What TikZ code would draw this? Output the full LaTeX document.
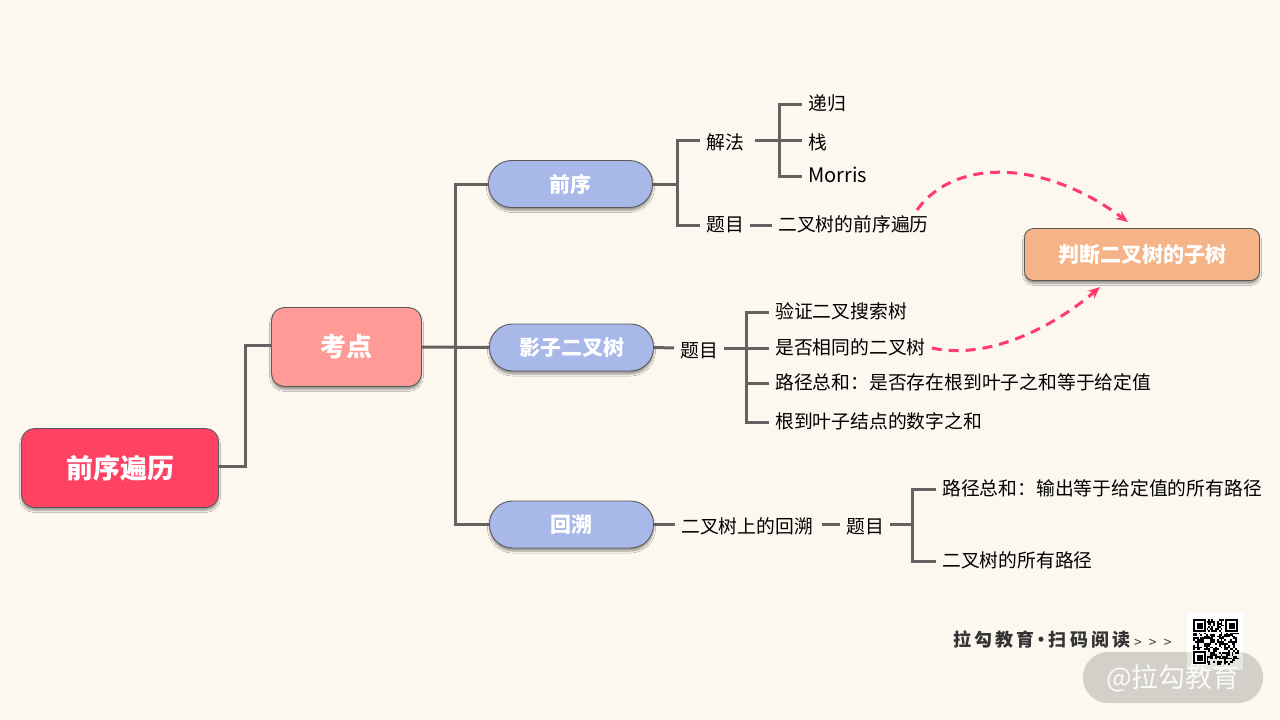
\documentclass[tikz,border=0pt]{standalone}
\usepackage{fontspec}
\usetikzlibrary{shadows.blur,arrows.meta}
\setmainfont{Noto Sans CJK SC}
\definecolor{paper}{RGB}{252, 248, 240}
\definecolor{linegray}{RGB}{100, 98, 96}
\definecolor{edgegray}{RGB}{90, 90, 90}
\definecolor{rootred}{RGB}{255, 65, 100}
\definecolor{keypink}{RGB}{255, 155, 150}
\definecolor{topicblue}{RGB}{168, 184, 232}
\definecolor{linkorange}{RGB}{245, 180, 135}
\definecolor{dashred}{RGB}{255, 60, 105}
\definecolor{pillgray}{RGB}{210, 208, 200}
\tikzset{
  boxbase/.style={draw=edgegray, line width=0.9pt, text=white,
    blur shadow={shadow xshift=0pt, shadow yshift=-3pt, shadow opacity=40, shadow blur radius=2pt, shadow blur steps=5}},
  rootbox/.style={boxbase, fill=rootred, rounded corners=13pt, minimum width=197pt, minimum height=79pt, font=\fontsize{27}{30}\bfseries\selectfont},
  keybox/.style={boxbase, fill=keypink, rounded corners=13pt, minimum width=150pt, minimum height=79pt, font=\fontsize{26}{30}\bfseries\selectfont},
  topicbox/.style={boxbase, fill=topicblue, rounded corners=23pt, minimum width=164pt, minimum height=47pt, font=\fontsize{21}{25}\bfseries\selectfont},
  linkbox/.style={boxbase, fill=linkorange, rounded corners=9pt, minimum width=235pt, minimum height=52pt, font=\fontsize{21}{25}\bfseries\selectfont},
  leaf/.style={inner ysep=0pt, inner xsep=6pt, anchor=west, text=black, text height=15pt, text depth=3pt, font=\fontsize{18.8}{23}\selectfont},
  lowleaf/.style={leaf, text height=20pt, text depth=2pt},
  branch/.style={draw=linegray, line width=3pt},
  jump/.style={draw=dashred, line width=3pt, dash pattern=on 10pt off 7pt, -{Stealth[length=12pt,width=10pt]}},
}
\begin{document}
\begin{tikzpicture}[x=1pt,y=-1pt]
  \useasboundingbox (0,0) rectangle (1280,720);
  \fill[paper] (0,0) rectangle (1280,720);

  % branch points
  \coordinate (elbowA) at (245,400);
  \coordinate (elbowB) at (455,347.5);
  \coordinate (elbowC) at (677,184);
  \coordinate (elbowD) at (779,140);
  \coordinate (elbowE) at (746,348);
  \coordinate (elbowF) at (912,524.5);
  \coordinate (jumpA) at (917,210);

  \node[rootbox] (root) at (120,468) {前序遍历};
  \node[keybox] (key) at (346.5,347) {考点};
  \node[topicbox] (pre) at (570.5,184) {前序};
  \node[topicbox] (shadow) at (571.5,347.5) {影子二叉树};
  \node[topicbox] (back) at (571.5,524.5) {回溯};
  \node[linkbox] (sub) at (1142,254.5) {判断二叉树的子树};

  \node[lowleaf] (method) at (700,140) {解法};
  \node[leaf] (rec) at (802,104) {递归};
  \node[lowleaf] (stack) at (802,140) {栈};
  \node[leaf, font=\fontsize{20}{23}\selectfont] (morris) at (802,176) {Morris};
  \node[leaf] (probA) at (700,225.5) {题目};
  \node[leaf] (preTree) at (772,225.5) {二叉树的前序遍历};

  \node[lowleaf] (probB) at (674,348) {题目};
  \node[leaf] (valid) at (769,312) {验证二叉搜索树};
  \node[leaf] (same) at (769,348) {是否相同的二叉树};
  \node[leaf] (sumA) at (769,383.5) {路径总和：是否存在根到叶子之和等于给定值};
  \node[leaf] (sumB) at (769,422.5) {根到叶子结点的数字之和};

  \node[lowleaf] (backTree) at (675,524.5) {二叉树上的回溯};
  \node[lowleaf] (probC) at (840,524.5) {题目};
  \node[leaf] (pathA) at (936,489.5) {路径总和：输出等于给定值的所有路径};
  \node[leaf] (pathB) at (936,561) {二叉树的所有路径};

  \draw[branch] ([yshift=2pt]root.east) -| (elbowA) |- ([yshift=2pt]key.west);
  \draw[branch] (key.east) -- (shadow.west);
  \draw[branch] (pre.west) -| (elbowB) |- (back.west);
  \draw[branch] (pre.east) -- (elbowC);
  \draw[branch] (method.west) -| (elbowC) |- (probA.west);
  \draw[branch] ([xshift=5pt]method.east) -- (stack.west);
  \draw[branch] (rec.west) -| (elbowD) |- (morris.west);
  \draw[branch] (probA.east) -- (preTree.west);
  \draw[branch] (shadow.east) -- (probB.west);
  \draw[branch] (probB.east) -- (same.west);
  \draw[branch] (valid.west) -| (elbowE) |- (sumB.west);
  \draw[branch] (elbowE |- sumA.west) -- (sumA.west);
  \draw[branch] (back.east) -- (backTree.west);
  \draw[branch] ([xshift=3pt]backTree.east) -- (probC.west);
  \draw[branch] (probC.east) -- (elbowF);
  \draw[branch] (pathA.west) -| (elbowF) |- (pathB.west);

  \draw[jump] (jumpA) .. controls (955,157) and (1045,160) .. ([xshift=-14pt,yshift=6pt]sub.north);
  \draw[jump] (same.east) .. controls (985,360) and (1050,330) .. ([xshift=-42pt,yshift=-6pt]sub.south);

  % footer
  \node[inner sep=0pt, anchor=west, text=black!80, font=\fontsize{18}{22}\bfseries\addfontfeatures{LetterSpace=18}] (scan) at (953,640) {拉勾教育\kern-2pt·\kern-2pt扫码阅读};
  \node[inner sep=0pt, anchor=west, text=black!75, font=\fontsize{14}{16}\selectfont] (more) at (1134,643) {>\hspace{7pt}>\hspace{7pt}>};
  \fill[white] (1187,613) rectangle (1243,670);
  \fill[pillgray, rounded corners=25pt] (1083,652) rectangle (1263,703);
  \fill[white, opacity=0.45] (1187,652) rectangle (1243,670);
  \pgfmathsetseed{41}
  \foreach \i in {0,...,24}
    \foreach \j in {0,...,24}{
      \pgfmathparse{rnd<0.52 ? 1 : 0}
      \ifnum\pgfmathresult>0
        \fill[black] ({1193+\i*1.84},{619+\j*1.84}) rectangle +(1.84,1.84);
      \fi
    }
  \foreach \qx/\qy in {1193/619, 1225/619, 1193/651}{
    \fill[white] (\qx-1,\qy-1) rectangle +(15,15);
    \fill[black] (\qx,\qy) rectangle +(13,13);
    \fill[white] (\qx+2,\qy+2) rectangle +(9,9);
    \fill[black] (\qx+3.5,\qy+3.5) rectangle +(6,6);
  }
  \node[inner sep=0pt, anchor=center, text=white!90!pillgray, font=\fontsize{27}{30}\selectfont] (mark) at (1173,678) {@拉勾教育};
\end{tikzpicture}
\end{document}
